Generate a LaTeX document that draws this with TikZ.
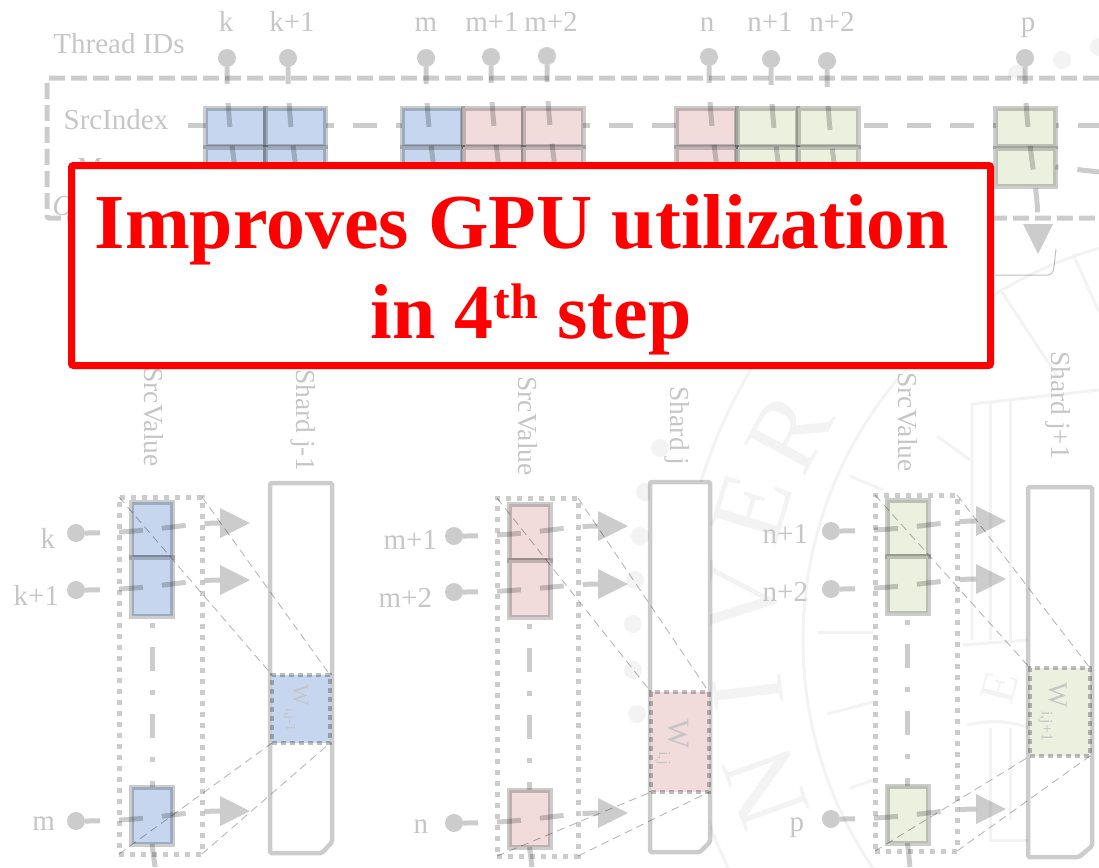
\documentclass[tikz,border=0pt]{standalone}
\usepackage{fontspec}
\setmainfont{Liberation Serif}
\usepackage{tikz}
\usetikzlibrary{arrows.meta,calc}
\definecolor{blueC}{HTML}{C5D6EE}
\definecolor{pinkC}{HTML}{F1DCDB}
\definecolor{greenC}{HTML}{EBF0DF}
\definecolor{labelG}{HTML}{C6C6C6}
\definecolor{sealG}{HTML}{F3F3F3}
\tikzstyle{seal}=[draw=sealG, line width=3pt]
\tikzstyle{sealL}=[text=sealG, inner sep=0pt, font=\fontsize{105}{105}\selectfont]
\tikzstyle{lab}=[text=labelG, inner sep=0pt, outer sep=0pt, font=\fontsize{29}{30}\selectfont]
\tikzstyle{labS}=[lab, font=\fontsize{27.5}{28}\selectfont, rotate=-90]
\tikzstyle{pin}=[circle, fill=black, opacity=0.2, minimum size=18pt, inner sep=0pt, outer sep=0pt]
\tikzstyle{cell}=[draw=black, draw opacity=0.2, line width=5pt, inner sep=0pt, outer sep=0pt]
\tikzstyle{cellT}=[cell, minimum width=60pt, minimum height=38pt]
\tikzstyle{valC}=[cell, minimum width=41pt]
\tikzstyle{valBox}=[draw=black, draw opacity=0.2, fill=white, line width=5pt, dash pattern=on 5pt off 6pt, inner sep=0pt, outer sep=0pt]
\tikzstyle{wBox}=[draw=black, draw opacity=0.25, line width=4pt, dash pattern=on 5pt off 4pt, inner sep=0pt, outer sep=0pt]
\tikzstyle{shard}=[draw=black, draw opacity=0.2, fill=white, line width=4.5pt, rounded corners=1.5pt]
\tikzstyle{edge}=[draw=black, opacity=0.2, line width=5pt, dash pattern=on 24pt off 19pt, -{Triangle[length=30pt,width=30pt,line width=0pt]}]
\tikzstyle{rowE}=[draw=black, opacity=0.2, line width=5pt, dash pattern=on 24pt off 19pt]
\tikzstyle{dotE}=[draw=black, opacity=0.2, line width=5pt, dash pattern=on 5pt off 19pt on 24pt off 19pt, dash phase=60pt]
\tikzstyle{thinE}=[draw=black, opacity=0.28, line width=0.9pt, dash pattern=on 8pt off 5pt]
\tikzstyle{banner}=[draw=red, fill=white, line width=7pt, rounded corners=2pt, inner sep=0pt, outer sep=0pt, minimum width=919pt, minimum height=200pt]
\tikzstyle{bannerT}=[text=red, inner sep=0pt, font=\fontsize{77.8}{80}\selectfont\bfseries]
\begin{document}
\begin{tikzpicture}[x=1pt, y=-1pt]
      \useasboundingbox (0,0) rectangle (1099,867);
      % faint seal behind everything
      \draw[seal] (1210,640) circle (407);
      \draw[seal] (1210,640) circle (533);
      \fill[sealG] (660,448) circle (9);
      \fill[sealG] (645,492) circle (9);
      \fill[sealG] (640,536) circle (9);
      \fill[sealG] (635,580) circle (9);
      \fill[sealG] (633,624) circle (9);
      \fill[sealG] (633,670) circle (9);
      \fill[sealG] (637,714) circle (9);
      \fill[sealG] (1017,74) circle (9);
      \fill[sealG] (1062,60) circle (9);
      \fill[sealG] (1099,47) circle (9);
      \node(sealR) [sealL, rotate=62] at (790,432){R};
      \node(sealE) [sealL, rotate=73] at (752,508){E};
      \node(sealV) [sealL, rotate=85] at (742,600){V};
      \node(sealI) [sealL, rotate=97] at (748,692){I};
      \node(sealN) [sealL, rotate=110] at (766,788){N};
      \node(sealF) [sealL, rotate=75, font=\fontsize{50}{50}\selectfont] at (1000,688){E};
      \draw[seal] (817,632) -- (873,632);
      \draw[seal] (827,714) -- (873,702);
      \draw[seal] (850,476) -- (883,490);
      \draw[seal] (850,788) -- (885,776);
      \draw[seal] (937,436) -- (970,460);
      \draw[seal] (1002,292) -- (1057,376);
      \draw[seal] (1073,254) -- (1099,312);
      \draw[seal] (972,640) -- (972,404) -- (1099,390);
      \draw[seal] (990,640) -- (990,402);
      \draw[seal] (1010,640) -- (1010,400);
      \draw[seal] (963,645) -- (1028,640);
      \draw[seal] (990,728) -- (990,840) -- (1028,840);
      \draw[seal] (1010,728) -- (1010,820);
      \draw[seal] (967,725) to[bend left=15] (1030,728);

      % dashed frame of the top part
      \draw[draw=black, draw opacity=0.2, fill=white, line width=5pt, dash pattern=on 16pt off 6pt, rounded corners=2pt]
        (1099,78) -- (47,78) -- (47,218) -- (1099,218);

      \node(thr) [lab, anchor=base] at (119,53){Thread IDs};
      \node(idx) [lab, anchor=base] at (116,129){SrcIndex};
      \node(msk) [lab, anchor=base] at (90,177){M};
      \node(ovr) [lab, anchor=base, font=\fontsize{29}{30}\selectfont\itshape] at (63,215){O};

      % top row of cells
      \node(ck) [cellT, fill=blueC] at (235.5,127){};
      \node(ck1) [cellT, fill=blueC] at (295.5,127){};
      \node(cm) [cellT, fill=blueC] at (432,127){};
      \node(cm1) [cellT, fill=pinkC] at (493,127){};
      \node(cm2) [cellT, fill=pinkC] at (553,127){};
      \node(cn) [cellT, fill=pinkC] at (706,127){};
      \node(cn1) [cellT, fill=greenC] at (767.5,127){};
      \node(cn2) [cellT, fill=greenC] at (828,127){};
      \node(cp) [cellT, fill=greenC] at (1025.5,127){};
      \node(dk) [cellT, fill=blueC] at (235.5,166){};
      \node(dk1) [cellT, fill=blueC] at (295.5,166){};
      \node(dm) [cellT, fill=blueC] at (432,166){};
      \node(dm1) [cellT, fill=pinkC] at (493,166){};
      \node(dm2) [cellT, fill=pinkC] at (553,166){};
      \node(dn) [cellT, fill=pinkC] at (706,166){};
      \node(dn1) [cellT, fill=greenC] at (767.5,166){};
      \node(dn2) [cellT, fill=greenC] at (828,166){};
      \node(dp) [cellT, fill=greenC] at (1025.5,167){};

      \coordinate(idxEnd) at (188,125);
      \coordinate(rowEnd) at (1099,125);
      \coordinate(rowEndB) at (1099,172);
      \draw[rowE] (idxEnd) -- ([yshift=2pt]ck.west);
      \draw[rowE, dash phase=16pt] ([yshift=2pt]ck1.east) -- ([yshift=2pt]cm.west);
      \draw[rowE, dash phase=17pt] ([yshift=2pt]cm2.east) -- ([yshift=2pt]cn.west);
      \draw[rowE, dash phase=37pt] ([yshift=2pt]cn2.east) -- ([yshift=2pt]cp.west);
      \draw[rowE, dash phase=21pt] ([yshift=2pt]cp.east) -- (rowEnd);
      \draw[rowE, dash phase=21pt] (dp.east) -- (rowEndB);

      % thread ids
      \node(tk) [pin] at (227,58){};
      \node(tk1) [pin] at (288,58){};
      \node(tm) [pin] at (426,58){};
      \node(tm1) [pin] at (491,57){};
      \node(tm2) [pin] at (547,56){};
      \node(tn) [pin] at (709,57){};
      \node(tn1) [pin] at (771,59){};
      \node(tn2) [pin] at (827,61){};
      \node(tp) [pin] at (1025,58){};
      \node(lk) [lab, anchor=base] at (226,32){k};
      \node(lk1) [lab, anchor=base] at (292,32){k+1};
      \node(lm) [lab, anchor=base] at (426,32){m};
      \node(lm1) [lab, anchor=base] at (492,32){m+1};
      \node(lm2) [lab, anchor=base] at (551,32){m+2};
      \node(ln) [lab, anchor=base] at (707,32){n};
      \node(ln1) [lab, anchor=base] at (770,32){n+1};
      \node(ln2) [lab, anchor=base] at (832,32){n+2};
      \node(lp) [lab, anchor=base] at (1028,32){p};
      \coordinate(ak) at (240,254);
      \coordinate(ak1) at (301,254);
      \coordinate(am) at (439,254);
      \coordinate(am1) at (504,254);
      \coordinate(am2) at (560,254);
      \coordinate(an) at (722,254);
      \coordinate(an1) at (784,254);
      \coordinate(an2) at (840,254);
      \coordinate(ap) at (1038,254);
      \draw[edge, dash phase=7pt] (tk) to[out=270,in=90] (ak);
      \draw[edge, dash phase=7pt] (tk1) to[out=270,in=90] (ak1);
      \draw[edge, dash phase=7pt] (tm) to[out=270,in=90] (am);
      \draw[edge, dash phase=7pt] (tm1) to[out=270,in=90] (am1);
      \draw[edge, dash phase=7pt] (tm2) to[out=270,in=90] (am2);
      \draw[edge, dash phase=7pt] (tn) to[out=270,in=90] (an);
      \draw[edge, dash phase=7pt] (tn1) to[out=270,in=90] (an1);
      \draw[edge, dash phase=7pt] (tn2) to[out=270,in=90] (an2);
      \draw[edge, dash phase=7pt] (tp) to[out=270,in=90] (ap);
      \draw[draw=black, draw opacity=0.25, line width=1pt, rounded corners=5pt] (1056,249) -- (1053,275) -- (995,275);

      % shard j-1
      \node(boxA) [valBox, minimum width=83pt, minimum height=357pt] at (160.5,675.5){};
      \node(vk) [valC, fill=blueC, minimum height=55pt] at (152,529.5){};
      \node(vk1) [valC, fill=blueC, minimum height=59pt] at (152,586.5){};
      \node(vm) [valC, fill=blueC, minimum height=57pt] at (152,815.5){};
      \draw[shard] (270,483) -- (332,483) -- (332,842) -- (322,853) -- (270,853) -- cycle;
      \node(wA) [wBox, fill=blueC, minimum width=58pt, minimum height=68pt] at (301,709){};
      \node(wAt) [lab, rotate=-90, font=\fontsize{23}{23}\selectfont] at (296,708){W\raisebox{-7pt}{\fontsize{14}{14}\selectfont\,i,j-1}};
      \node(srcA) [labS, fill=white] at (154,417){SrcValue};
      \node(shA) [labS] at (303,420){Shard j-1};
      \node(pk) [pin] at (76,533){};
      \node(pk1) [pin] at (76,590){};
      \node(pm) [pin] at (76,821){};
      \node(qk) [lab, anchor=base east] at (55,548){k};
      \node(qk1) [lab, anchor=base east] at (59,605){k+1};
      \node(qm) [lab, anchor=base east] at (55,830){m};
      \coordinate(hk) at (250,523);
      \coordinate(hk1) at (250,580);
      \coordinate(hm) at (250,811);
      \coordinate(endA) at (155,867);
      \draw[edge, dash phase=9pt] (pk) to[out=0,in=180] (hk);
      \draw[edge, dash phase=9pt] (pk1) to[out=0,in=180] (hk1);
      \draw[edge, dash phase=9pt] (pm) to[out=0,in=180] (hm);
      \draw[dotE] (vk1.south) -- (vm.north);
      \draw[rowE] (vm.south) -- (endA);
      \draw[thinE] (boxA.north west) -- (wA.north west);
      \draw[thinE] (boxA.north east) -- (wA.north east);
      \draw[thinE] (boxA.south west) -- (wA.south west);
      \draw[thinE] (boxA.south east) -- (wA.south east);

      % shard j
      \node(boxB) [valBox, minimum width=81pt, minimum height=358pt] at (537.5,677){};
      \node(vm1) [valC, fill=pinkC, minimum height=56pt] at (529.5,532){};
      \node(vm2) [valC, fill=pinkC, minimum height=57pt] at (529.5,588.5){};
      \node(vn) [valC, fill=pinkC, minimum height=57pt] at (529.5,818.5){};
      \draw[shard] (650,482) -- (710,482) -- (710,842) -- (700,852) -- (650,852) -- cycle;
      \node(wB) [wBox, fill=pinkC, minimum width=58pt, minimum height=100pt] at (680,742){};
      \node(wBt) [lab, rotate=-90, font=\fontsize{31}{31}\selectfont] at (672,742){W\raisebox{-9pt}{\fontsize{17}{17}\selectfont\,i,j}};
      \node(srcB) [labS, fill=white] at (528,426){SrcValue};
      \node(shB) [labS] at (677,426){Shard j};
      \node(pm1) [pin] at (454,536){};
      \node(pm2) [pin] at (454,592){};
      \node(pn) [pin] at (454,823){};
      \node(qm1) [lab, anchor=base east] at (437,549){m+1};
      \node(qm2) [lab, anchor=base east] at (432,607){m+2};
      \node(qn) [lab, anchor=base east] at (428,833){n};
      \coordinate(hm1) at (628,526);
      \coordinate(hm2) at (628,584);
      \coordinate(hn) at (628,813);
      \coordinate(endB) at (532,867);
      \draw[edge, dash phase=9pt] (pm1) to[out=0,in=180] (hm1);
      \draw[edge, dash phase=9pt] (pm2) to[out=0,in=180] (hm2);
      \draw[edge, dash phase=9pt] (pn) to[out=0,in=180] (hn);
      \draw[dotE] (vm2.south) -- (vn.north);
      \draw[rowE] (vn.south) -- (endB);
      \draw[thinE] (boxB.north west) -- (wB.north west);
      \draw[thinE] (boxB.north east) -- (wB.north east);
      \draw[thinE] (boxB.south west) -- (wB.south west);
      \draw[thinE] (boxB.south east) -- (wB.south east);

      % shard j+1
      \node(boxC) [valBox, minimum width=82pt, minimum height=356pt] at (916,673){};
      \node(vn1) [valC, fill=greenC, minimum height=56pt] at (907.5,528){};
      \node(vn2) [valC, fill=greenC, minimum height=57pt] at (907.5,584.5){};
      \node(vp) [valC, fill=greenC, minimum height=57pt] at (907.5,814.5){};
      \draw[shard] (1028,487) -- (1092,487) -- (1092,846) -- (1079,857) -- (1028,857) -- cycle;
      \node(wC) [wBox, fill=greenC, minimum width=60pt, minimum height=88pt] at (1060,712){};
      \node(wCt) [lab, rotate=-90, font=\fontsize{27}{27}\selectfont] at (1053,712){W\raisebox{-8pt}{\fontsize{16}{16}\selectfont\,i,j+1}};
      \node(srcC) [labS, fill=white] at (908,422){SrcValue};
      \node(shC) [labS] at (1058,405){Shard j+1};
      \node(pn1) [pin] at (831,531){};
      \node(pn2) [pin] at (831,589){};
      \node(pp) [pin] at (831,819){};
      \node(qn1) [lab, anchor=base east] at (808,543){n+1};
      \node(qn2) [lab, anchor=base east] at (808,601){n+2};
      \node(qp) [lab, anchor=base east] at (804,831){p};
      \coordinate(hn1) at (1006,521);
      \coordinate(hn2) at (1006,579);
      \coordinate(hp) at (1006,809);
      \coordinate(endC) at (910,867);
      \draw[edge, dash phase=9pt] (pn1) to[out=0,in=180] (hn1);
      \draw[edge, dash phase=9pt] (pn2) to[out=0,in=180] (hn2);
      \draw[edge, dash phase=9pt] (pp) to[out=0,in=180] (hp);
      \draw[dotE] (vn2.south) -- (vp.north);
      \draw[rowE] (vp.south) -- (endC);
      \draw[thinE] (boxC.north west) -- (wC.north west);
      \draw[thinE] (boxC.north east) -- (wC.north east);
      \draw[thinE] (boxC.south west) -- (wC.south west);
      \draw[thinE] (boxC.south east) -- (wC.south east);

      % banner on top
      \node(ban) [banner] at (531,265.5){};
      \node(banA) [bannerT, anchor=base] at (522,248){Improves GPU utilization};
      \node(banB) [bannerT, anchor=base] at (531,338){in 4\raisebox{20pt}{\fontsize{50}{50}\selectfont th} step};
\end{tikzpicture}
\end{document}
